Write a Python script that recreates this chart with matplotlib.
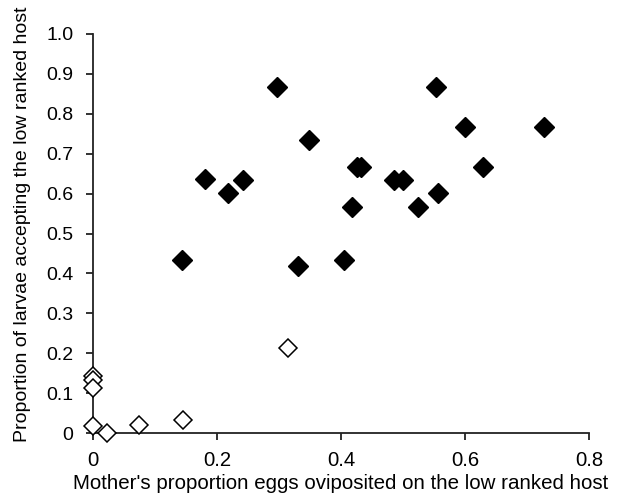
import matplotlib
matplotlib.use('Agg')
import matplotlib.pyplot as plt

# Filled diamonds (larvae accepting low ranked host)
filled_x = [0.180, 0.217, 0.242, 0.296, 0.348, 0.418, 0.426, 0.432, 0.485, 0.500,
            0.524, 0.554, 0.557, 0.600, 0.629, 0.727, 0.143, 0.331, 0.405]
filled_y = [0.637, 0.601, 0.634, 0.866, 0.734, 0.567, 0.667, 0.667, 0.633, 0.633,
            0.567, 0.866, 0.601, 0.766, 0.667, 0.766, 0.434, 0.419, 0.434]

# Open diamonds
open_x = [0.315, 0.145, 0.074, 0.023, 0.0, 0.0, 0.0, 0.0]
open_y = [0.214, 0.033, 0.020, 0.0, 0.017, 0.143, 0.133, 0.114]

plt.rcParams['font.family'] = ['Liberation Sans', 'DejaVu Sans']

fig = plt.figure(figsize=(6.23, 5.0), dpi=100)
ax = fig.add_axes([93 / 623, 0.134, 496 / 623, 0.798])

ax.plot(filled_x, filled_y, linestyle='none', marker='D', markersize=10,
        markerfacecolor='black', markeredgecolor='black', clip_on=False)
ax.plot(open_x, open_y, linestyle='none', marker='D', markersize=8.8,
        markerfacecolor='white', markeredgecolor='black', markeredgewidth=1.1,
        clip_on=False, zorder=3)

ax.set_xlim(0, 0.8)
ax.set_ylim(0, 1.0)
ax.set_xticks([0, 0.2, 0.4, 0.6, 0.8])
ax.set_xticklabels(['0', '0.2', '0.4', '0.6', '0.8'])
ax.set_yticks([i / 10 for i in range(11)])
ax.set_yticklabels(['0'] + [f'{i/10:.1f}' for i in range(1, 11)])

for s in ['top', 'right']:
    ax.spines[s].set_visible(False)
for s in ['left', 'bottom']:
    ax.spines[s].set_linewidth(1.3)
    ax.spines[s].set_color('#222222')

ax.tick_params(axis='both', direction='out', length=5, width=1.3,
               colors='#222222', labelcolor='black')
ax.tick_params(axis='y', pad=9, labelsize=14)
ax.tick_params(axis='x', pad=8, labelsize=14.6)

ax.set_xlabel("Mother's proportion eggs oviposited on the low ranked host",
              fontsize=14.8, labelpad=3)
ax.set_ylabel("Proportion of larvae accepting the low ranked host",
              fontsize=14)
ax.yaxis.set_label_coords(-0.124, 0.522)

fig.savefig('out.png', dpi=100, facecolor='white')
